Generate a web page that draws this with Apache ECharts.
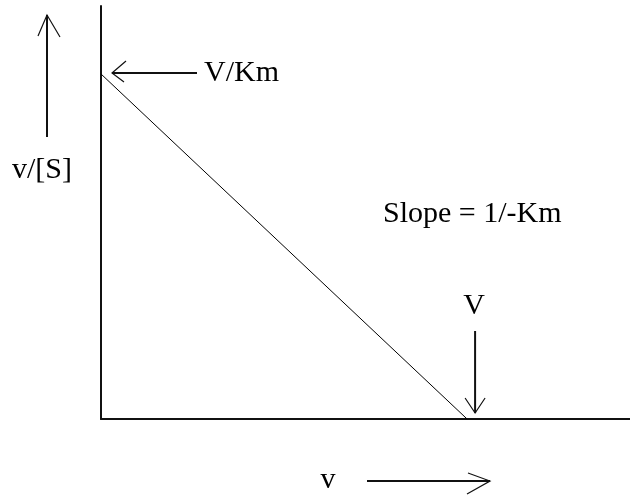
<!DOCTYPE html>
<html>
<head>
<meta charset="utf-8">
<script src="https://cdn.jsdelivr.net/npm/echarts@6/dist/echarts.min.js"></script>
<style>
html,body{margin:0;padding:0;background:#fff;}
#c{width:630px;height:499px;}
</style>
</head>
<body>
<div id="c"></div>
<script>
// Eadie-Hofstee plot: v/[S] against v
var vValues = [0, 10];          // v (x)
var vOverSValues = [10, 0];     // v/[S] (y)
var xRange = [0, 14.45];
var yRange = [0, 11.97];
var labels = {
  yName: 'v/[S]',
  xName: 'v',
  intercept: 'V/Km',
  vmax: 'V',
  slope: 'Slope = 1/-Km'
};

var chart = echarts.init(document.getElementById('c'), null, {renderer: 'canvas'});
var FONT = '"Liberation Serif", "DejaVu Serif", serif';

var base = {
  animation: false,
  backgroundColor: '#fff',
  grid: {left: 101, right: 0, top: 6, bottom: 80},
  xAxis: {
    type: 'value', min: xRange[0], max: xRange[1],
    axisLine: {show: true, lineStyle: {color: '#111', width: 2}},
    axisTick: {show: false}, axisLabel: {show: false}, splitLine: {show: false}
  },
  yAxis: {
    type: 'value', min: yRange[0], max: yRange[1],
    axisLine: {show: true, lineStyle: {color: '#111', width: 2}},
    axisTick: {show: false}, axisLabel: {show: false}, splitLine: {show: false}
  },
  series: [{
    type: 'line',
    data: vValues.map(function (v, i) { return [v, vOverSValues[i]]; }),
    symbol: 'none',
    lineStyle: {color: '#000', width: 1},
    z: 3
  }]
};
chart.setOption(base);

var pY = chart.convertToPixel({gridIndex: 0}, [vValues[0], vOverSValues[0]]);
var pX = chart.convertToPixel({gridIndex: 0}, [vValues[1], vOverSValues[1]]);

var st = {stroke: '#000', lineWidth: 1.5, fill: null};
function seg(x1, y1, x2, y2, w) {
  return {type: 'line', shape: {x1: x1, y1: y1, x2: x2, y2: y2},
          style: {stroke: '#111', lineWidth: w || 1.5}, z: 10};
}
function head(pts) {
  return {type: 'polyline', shape: {points: pts}, style: {stroke: '#111', lineWidth: 1.2, fill: null}, z: 10};
}
function txt(t, x, y, align, size) {
  return {type: 'text', x: x, y: y, z: 10,
          style: {text: t, font: (size || 30) + 'px ' + FONT, fill: '#000',
                  align: align || 'left', verticalAlign: 'middle'}};
}

var g = [];
// y-axis name arrow (up)
g.push(seg(47, 137, 47, 15, 2));
g.push(head([[38, 36], [47, 15], [60, 37]]));
g.push(txt(labels.yName, 42, 170, 'center', 30));
// intercept arrow (left) pointing at y-intercept
var iy = pY[1] - 1;
g.push(seg(197, iy, pY[0] + 11, iy, 2));
g.push(head([[pY[0] + 25, iy - 12], [pY[0] + 11, iy], [pY[0] + 23, iy + 9]]));
g.push(txt(labels.intercept, 204, iy, 'left', 30));
// slope label
g.push(txt(labels.slope, 383, 214, 'left', 30));
// V arrow (down) pointing at x-intercept
var vx = pX[0] + 8;
g.push(txt(labels.vmax, vx - 1, 306, 'center', 30));
g.push(seg(vx, 331, vx, 413, 2));
g.push(head([[vx - 10, 398], [vx, 413], [vx + 10, 398]]));
// x-axis name arrow (right)
g.push(txt(labels.xName, 328, 480, 'center', 30));
g.push(seg(367, 481, 490, 481, 2));
g.push(head([[468, 473], [490, 481], [467, 494]]));

chart.setOption({graphic: g});
</script>
</body>
</html>
